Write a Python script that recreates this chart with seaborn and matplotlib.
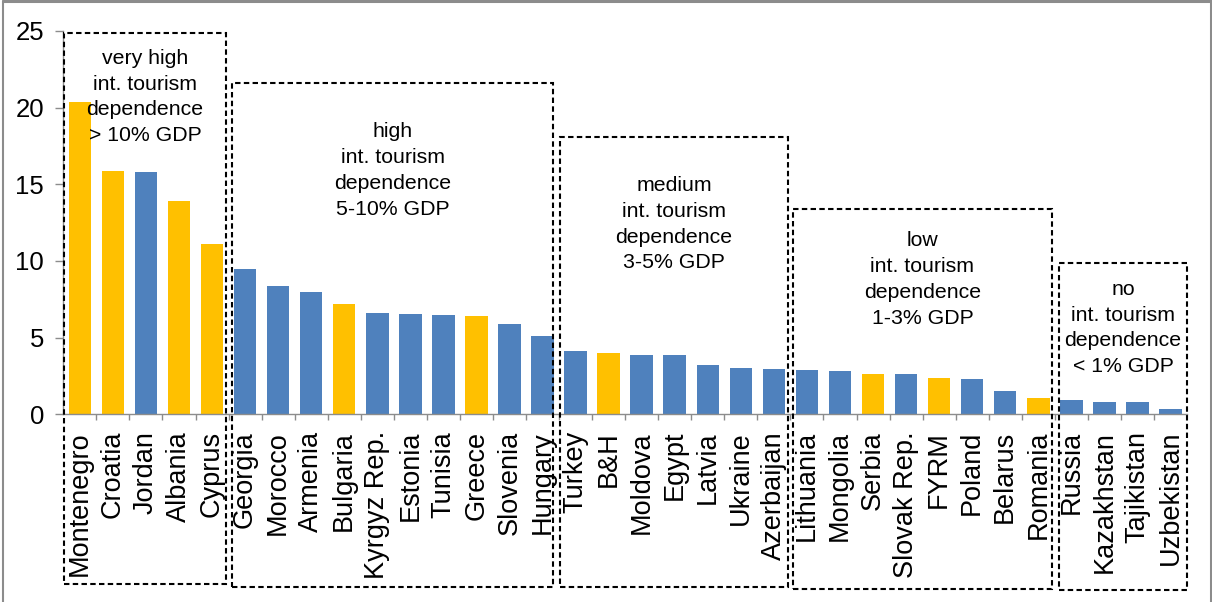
import matplotlib
matplotlib.use("Agg")
import matplotlib.pyplot as plt
import seaborn as sns
import pandas as pd
import numpy as np
from matplotlib.patches import Rectangle
from matplotlib.lines import Line2D

# ---------------- data ----------------
countries = ["Montenegro", "Croatia", "Jordan", "Albania", "Cyprus",
             "Georgia", "Morocco", "Armenia", "Bulgaria", "Kyrgyz Rep.", "Estonia",
             "Tunisia", "Greece", "Slovenia", "Hungary",
             "Turkey", "B&H", "Moldova", "Egypt", "Latvia", "Ukraine", "Azerbaijan",
             "Lithuania", "Mongolia", "Serbia", "Slovak Rep.", "FYRM", "Poland",
             "Belarus", "Romania",
             "Russia", "Kazakhstan", "Tajikistan", "Uzbekistan"]
values = [20.4, 15.9, 15.8, 13.9, 11.1,
          9.5, 8.4, 8.0, 7.2, 6.6, 6.55, 6.48, 6.39, 5.91, 5.09,
          4.11, 4.02, 3.85, 3.85, 3.2, 3.04, 2.98,
          2.88, 2.8, 2.65, 2.65, 2.39, 2.3, 1.5, 1.08,
          0.91, 0.78, 0.78, 0.35]
highlighted = ["Montenegro", "Croatia", "Albania", "Cyprus", "Bulgaria", "Greece",
               "B&H", "Serbia", "FYRM", "Romania"]
group_sizes = [5, 10, 7, 8, 4]
group_labels = ["very high\nint. tourism\ndependence\n> 10% GDP",
                "high\nint. tourism\ndependence\n5-10% GDP",
                "medium\nint. tourism\ndependence\n3-5% GDP",
                "low\nint. tourism\ndependence\n1-3% GDP",
                "no\nint. tourism\ndependence\n< 1% GDP"]

# ---------------- layout / style ----------------
ORANGE = "#FFC000"
BLUE = "#4F81BD"
GRAY = "#8C8C8C"
box_tops = [24.85, 21.63, 18.11, 13.39, 9.85]
box_bottoms = [-11.07, -11.25, -11.27, -11.4, -11.46]
box_left_off = [0.03, 0.11, 0.03, 0.07, 0.14]
box_right_off = [-0.08, -0.17, -0.08, -0.08, -0.01]
text_centers_y = [20.7, 15.9, 12.4, 8.8, 5.63]

sns.set_theme(style="white")
plt.rcParams["font.family"] = ["Liberation Sans", "DejaVu Sans"]

W, H = 1212, 602
fig = plt.figure(figsize=(W / 100, H / 100), dpi=100)
fig.patch.set_facecolor("white")
ax = fig.add_axes([63.3 / W, (H - 414.3) / H, (1187 - 63.3) / W, (414.3 - 31) / H])

df = pd.DataFrame({"country": countries, "value": values})
palette = {c: (ORANGE if c in highlighted else BLUE) for c in countries}
sns.barplot(data=df, x="country", y="value", hue="country", palette=palette,
            width=0.68, saturation=1, legend=False, linewidth=0, ax=ax)

ax.set_xlim(-0.5, len(countries) - 0.5)
ax.set_ylim(0, 25)
ax.set_yticks(np.arange(0, 26, 5))
ax.set_xlabel("")
ax.set_ylabel("")

for s in ["top", "right"]:
    ax.spines[s].set_visible(False)
for s in ["left", "bottom"]:
    ax.spines[s].set_color(GRAY)
    ax.spines[s].set_linewidth(1.0)

ax.tick_params(axis="y", which="major", direction="out", length=5.8, width=1.0,
               color=GRAY, pad=8, labelsize=18.5, left=True, labelcolor="black")
ax.set_xticks(np.arange(len(countries)))
ax.set_xticklabels(countries, rotation=90, fontsize=19.5, color="black")
ax.set_xticks(np.arange(0.5, len(countries) - 1, 1), minor=True)
ax.tick_params(axis="x", which="major", length=0, pad=12, bottom=True)
ax.tick_params(axis="x", which="minor", direction="out", length=4.5, width=1.0,
               color=GRAY, bottom=True)

# dashed group boxes and labels
start = 0
for i, n in enumerate(group_sizes):
    end = start + n - 1
    x0 = start - 0.5 + box_left_off[i]
    x1 = end + 0.5 + box_right_off[i]
    rect = Rectangle((x0, box_bottoms[i]), x1 - x0, box_tops[i] - box_bottoms[i],
                     fill=False, edgecolor="black", linewidth=1.5,
                     linestyle=(0, (2.6, 1.6)), clip_on=False, zorder=5)
    ax.add_patch(rect)
    ax.text((x0 + x1) / 2, text_centers_y[i], group_labels[i], ha="center",
            va="center", multialignment="center", fontsize=15.3, linespacing=1.45,
            color="black", zorder=6)
    start += n

# outer frame (top, left, right)
fig.add_artist(Line2D([3 / W, 3 / W], [0, 1 - 1 / H], transform=fig.transFigure,
                      color=GRAY, linewidth=1.5))
fig.add_artist(Line2D([3 / W, 1210.5 / W], [1 - 1 / H, 1 - 1 / H],
                      transform=fig.transFigure, color=GRAY, linewidth=2.2))
fig.add_artist(Line2D([1210.5 / W, 1210.5 / W], [0, 1 - 1 / H],
                      transform=fig.transFigure, color=GRAY, linewidth=2.2))

fig.savefig("out.png", dpi=100)
